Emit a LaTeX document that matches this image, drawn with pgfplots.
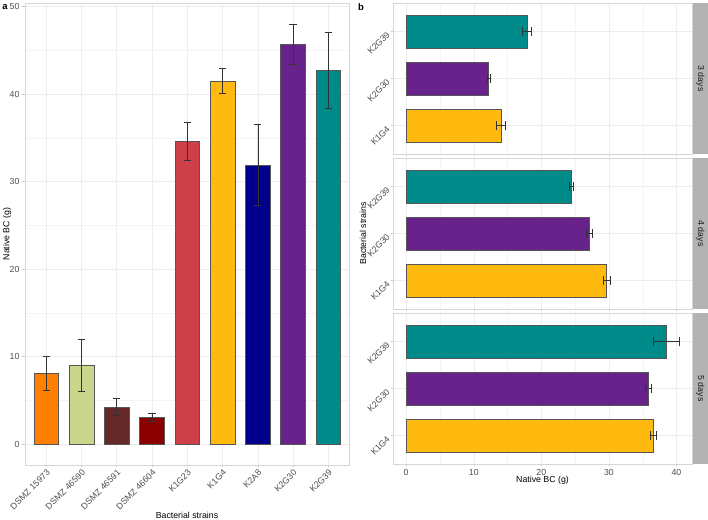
\documentclass[border=0pt]{standalone}
\usepackage{pgfplots}
\pgfplotsset{compat=1.18}
\usepackage{fontspec}
\setmainfont{Liberation Sans}
\definecolor{cA}{HTML}{FF7F00}
\definecolor{cB}{HTML}{CBD58B}
\definecolor{cC}{HTML}{652929}
\definecolor{cD}{HTML}{8B0000}
\definecolor{cE}{HTML}{CD4049}
\definecolor{cF}{HTML}{FFB90F}
\definecolor{cG}{HTML}{00008B}
\definecolor{cH}{HTML}{68228B}
\definecolor{cI}{HTML}{008B8B}
\definecolor{barline}{HTML}{555555}
\definecolor{errcol}{HTML}{333333}
\definecolor{bordercol}{HTML}{D6D6D6}
\definecolor{gridcol}{HTML}{EDEDED}
\definecolor{minorcol}{HTML}{F4F4F4}
\definecolor{tickcol}{HTML}{4D4D4D}
\definecolor{stripcol}{HTML}{B3B3B3}
\definecolor{striptext}{HTML}{1A1A1A}
\pgfplotsset{
  base/.style={
    scale only axis,
    axis line style={draw=bordercol, line width=0.8bp},
    tick style={draw=gray!45, line width=0.5bp},
    tick pos=left,
    major tick length=2.5bp,
    minor tick length=0pt,
    tick align=outside,
    ticklabel style={font=\fontsize{8.8}{10}\selectfont, text=tickcol},
    /pgf/number format/assume math mode=true,
    major grid style={draw=gridcol, line width=0.5bp},
    minor grid style={draw=minorcol, line width=0.3bp},
  },
  vb/.style={ybar, bar width=0.7, bar shift=0pt, fill=#1, draw=barline, line width=0.5bp,
    error bars/.cd, y dir=both, y explicit,
    error bar style={draw=errcol, line width=0.5bp},
    error mark options={rotate=90, draw=errcol, line width=0.5bp, mark size=3.6bp}},
  hb/.style={xbar, bar width=0.7, bar shift=0pt, fill=#1, draw=barline, line width=0.5bp,
    error bars/.cd, x dir=both, x explicit,
    error bar style={draw=errcol, line width=0.5bp},
    error mark options={rotate=90, draw=errcol, line width=0.5bp, mark size=4.6bp}},
  rpanel/.style={base,
    width=299bp, height=151bp,
    xmin=-1.95, xmax=42.3, ymin=0.4, ymax=3.6,
    xtick={0,10,20,30,40}, minor xtick={5,15,25,35},
    ytick={1,2,3}, yticklabels={K1G4,K2G30,K2G39},
    yticklabel style={rotate=45, anchor=east},
    xmajorgrids, xminorgrids, ymajorgrids,
  },
}
\begin{document}
\fontsize{8.8}{10}\selectfont
\begin{tikzpicture}
\useasboundingbox (0bp,0bp) rectangle (708bp,520bp);
% ---------- panel a ----------
\begin{axis}[base,
  at={(25bp,55bp)}, anchor=south west,
  width=324.5bp, height=462bp,
  xmin=0.4, xmax=9.6, ymin=-2.4, ymax=50.4,
  xtick={1,...,9},
  xticklabels={DSMZ 15973,DSMZ 46590,DSMZ 46591,DSMZ 46604,K1G23,K1G4,K2A8,K2G30,K2G39},
  xticklabel style={rotate=45, anchor=north east, inner sep=1pt},
  ytick={0,10,20,30,40,50}, minor ytick={5,15,25,35,45},
  xmajorgrids, ymajorgrids, yminorgrids,
]
\addplot[vb=cA] coordinates {(1,8.05) +- (0,1.93)};
\addplot[vb=cB] coordinates {(2,9.0) +- (0,2.97)};
\addplot[vb=cC] coordinates {(3,4.25) +- (0,0.95)};
\addplot[vb=cD] coordinates {(4,3.1) +- (0,0.45)};
\addplot[vb=cE] coordinates {(5,34.6) +- (0,2.15)};
\addplot[vb=cF] coordinates {(6,41.5) +- (0,1.45)};
\addplot[vb=cG] coordinates {(7,31.9) +- (0,4.6)};
\addplot[vb=cH] coordinates {(8,45.7) +- (0,2.25)};
\addplot[vb=cI] coordinates {(9,42.7) +- (0,4.3)};
\end{axis}
% ---------- panel b: 3 days ----------
\begin{axis}[rpanel, at={(393bp,366bp)}, anchor=south west, xticklabels={}]
\addplot[hb=cF] coordinates {(14.0,1) +- (0.65,0)};
\addplot[hb=cH] coordinates {(12.2,2) +- (0.2,0)};
\addplot[hb=cI] coordinates {(17.9,3) +- (0.67,0)};
\end{axis}
% ---------- 4 days ----------
\begin{axis}[rpanel, at={(393bp,211bp)}, anchor=south west, xticklabels={}]
\addplot[hb=cF] coordinates {(29.66,1) +- (0.49,0)};
\addplot[hb=cH] coordinates {(27.1,2) +- (0.49,0)};
\addplot[hb=cI] coordinates {(24.48,3) +- (0.3,0)};
\end{axis}
% ---------- 5 days ----------
\begin{axis}[rpanel, at={(393bp,56bp)}, anchor=south west]
\addplot[hb=cF] coordinates {(36.55,1) +- (0.49,0)};
\addplot[hb=cH] coordinates {(35.86,2) +- (0.42,0)};
\addplot[hb=cI] coordinates {(38.42,3) +- (1.92,0)};
\end{axis}
% strips
\fill[stripcol] (692.5bp,366bp) rectangle (708bp,517bp);
\fill[stripcol] (692.5bp,211bp) rectangle (708bp,362bp);
\fill[stripcol] (692.5bp,56bp) rectangle (708bp,207bp);
\node[rotate=-90, text=striptext, inner sep=0pt] at (700.5bp,441.5bp) {3 days};
\node[rotate=-90, text=striptext, inner sep=0pt] at (700.5bp,286.5bp) {4 days};
\node[rotate=-90, text=striptext, inner sep=0pt] at (700.5bp,131.5bp) {5 days};
% titles
\node[rotate=90, inner sep=0pt] at (7bp,286bp) {Native BC (g)};
\node[inner sep=0pt] at (187bp,5bp) {Bacterial strains};
\node[rotate=90, inner sep=0pt] at (363bp,286.5bp) {Bacterial strains};
\node[inner sep=0pt] at (542.5bp,39.5bp) {Native BC (g)};
\node[font=\bfseries\fontsize{9.5}{11}\selectfont, inner sep=0pt] at (5bp,513bp) {a};
\node[font=\bfseries\fontsize{9.5}{11}\selectfont, inner sep=0pt] at (361bp,513bp) {b};
\end{tikzpicture}
\end{document}
